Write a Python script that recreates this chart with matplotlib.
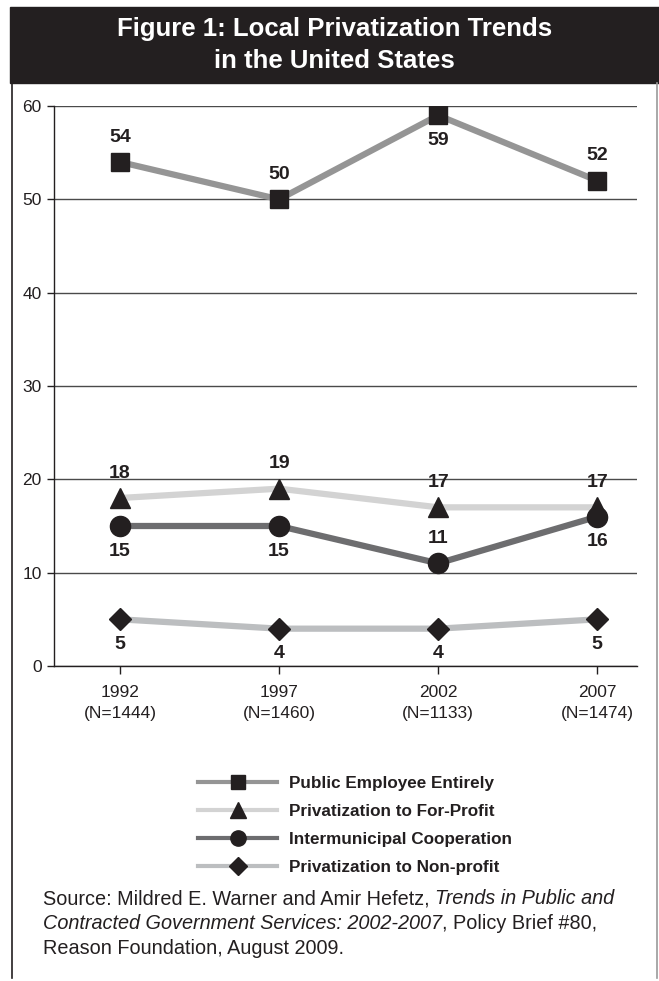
import matplotlib
matplotlib.use("Agg")
import matplotlib.pyplot as plt
from matplotlib.lines import Line2D
from matplotlib.patches import Rectangle

plt.rcParams["font.family"] = ["Liberation Sans", "DejaVu Sans"]

years = ["1992\n(N=1444)", "1997\n(N=1460)", "2002\n(N=1133)", "2007\n(N=1474)"]
public_employee = [54, 50, 59, 52]
for_profit = [18, 19, 17, 17]
intermunicipal = [15, 15, 11, 16]
non_profit = [5, 4, 4, 5]

series_names = ["Public Employee Entirely", "Privatization to For-Profit",
                "Intermunicipal Cooperation", "Privatization to Non-profit"]
series_values = [public_employee, for_profit, intermunicipal, non_profit]
line_colors = ["#959595", "#d3d3d3", "#6d6d6f", "#bcbec0"]
markers = ["s", "^", "o", "D"]
marker_sizes = [12.5, 15, 14.5, 11.5]
legend_marker_sizes = [10, 11.5, 11, 9]
# label above (+1) or below (-1) each point
label_side = [[1, 1, -1, 1], [1, 1, 1, 1], [-1, -1, 1, -1], [-1, -1, -1, -1]]
ink = "#231f20"

fig = plt.figure(figsize=(6.59, 9.81), dpi=100)

# title band
fig.patches.append(Rectangle((10 / 659, 1 - 83 / 981), 649 / 659, 76 / 981,
                             transform=fig.transFigure, color=ink, zorder=0))
fig.text(0.508, 1 - 45 / 981, "Figure 1: Local Privatization Trends\nin the United States",
         ha="center", va="center", color="white", fontsize=18.5, fontweight="bold",
         linespacing=1.4)

# frame lines
fig.add_artist(Line2D([12 / 659, 12 / 659], [1 - 83 / 981, 1 - 978 / 981],
                      transform=fig.transFigure, color=ink, lw=1.2))
fig.add_artist(Line2D([657 / 659, 657 / 659], [1 - 83 / 981, 1 - 978 / 981],
                      transform=fig.transFigure, color="#9a9a9a", lw=1.2))

ax = fig.add_axes([54 / 659, 1 - 666 / 981, 583 / 659, 560 / 981])
x = list(range(len(years)))

for name, vals, col, mk, ms, sides in zip(series_names, series_values, line_colors,
                                          markers, marker_sizes, label_side):
    ax.plot(x, vals, color=col, lw=4.5, marker=mk, markersize=ms,
            markerfacecolor=ink, markeredgecolor=ink, zorder=3)
    for xi, v, s in zip(x, vals, sides):
        ax.annotate(str(v), (xi, v), xytext=(0, 18 * s), textcoords="offset points",
                    ha="center", va="center", fontsize=14, fontweight="bold",
                    color=ink, zorder=4)

ax.set_xlim(-0.415, 3.25)
ax.set_ylim(0, 60)
ax.set_yticks(range(0, 61, 10))
ax.set_xticks(x)
ax.set_xticklabels(years, fontsize=12.5, color=ink, linespacing=1.5)
ax.tick_params(axis="y", labelsize=12.5, colors=ink, length=5, width=1, pad=4)
ax.tick_params(axis="x", length=6, width=1, pad=8, colors=ink)
ax.yaxis.grid(True, color="#4a4a4a", lw=1)
ax.set_axisbelow(True)
for sp in ["top", "right"]:
    ax.spines[sp].set_visible(False)
for sp in ["left", "bottom"]:
    ax.spines[sp].set_color(ink)
    ax.spines[sp].set_linewidth(1)

legend_handles = [Line2D([], [], color=col, lw=3, marker=mk, markersize=ms,
                         markerfacecolor=ink, markeredgecolor=ink)
                  for col, mk, ms in zip(line_colors, markers, legend_marker_sizes)]
fig.legend(legend_handles, series_names, loc="upper left",
           bbox_to_anchor=(183 / 659, 1 - 761 / 981),
           frameon=False, handlelength=4.6, handletextpad=0.7, labelspacing=0.75,
           prop={"weight": "bold", "size": 12.3}, labelcolor=ink)

# source note with mixed italic runs
renderer = fig.canvas.get_renderer()
src_lines = [
    [("Source: Mildred E. Warner and Amir Hefetz, ", "normal"), ("Trends in Public and", "italic")],
    [("Contracted Government Services: 2002-2007", "italic"), (", Policy Brief #80,", "normal")],
    [("Reason Foundation, August 2009.", "normal")],
]
y0 = 1 - 899 / 981
for i, parts in enumerate(src_lines):
    xp = 43 / 659
    yp = y0 - i * 24.5 / 981
    for txt, style in parts:
        t = fig.text(xp, yp, txt, fontsize=14.3, style=style, color=ink,
                     ha="left", va="center")
        bb = t.get_window_extent(renderer)
        xp += bb.width / fig.bbox.width

fig.savefig("out.png", dpi=100)
